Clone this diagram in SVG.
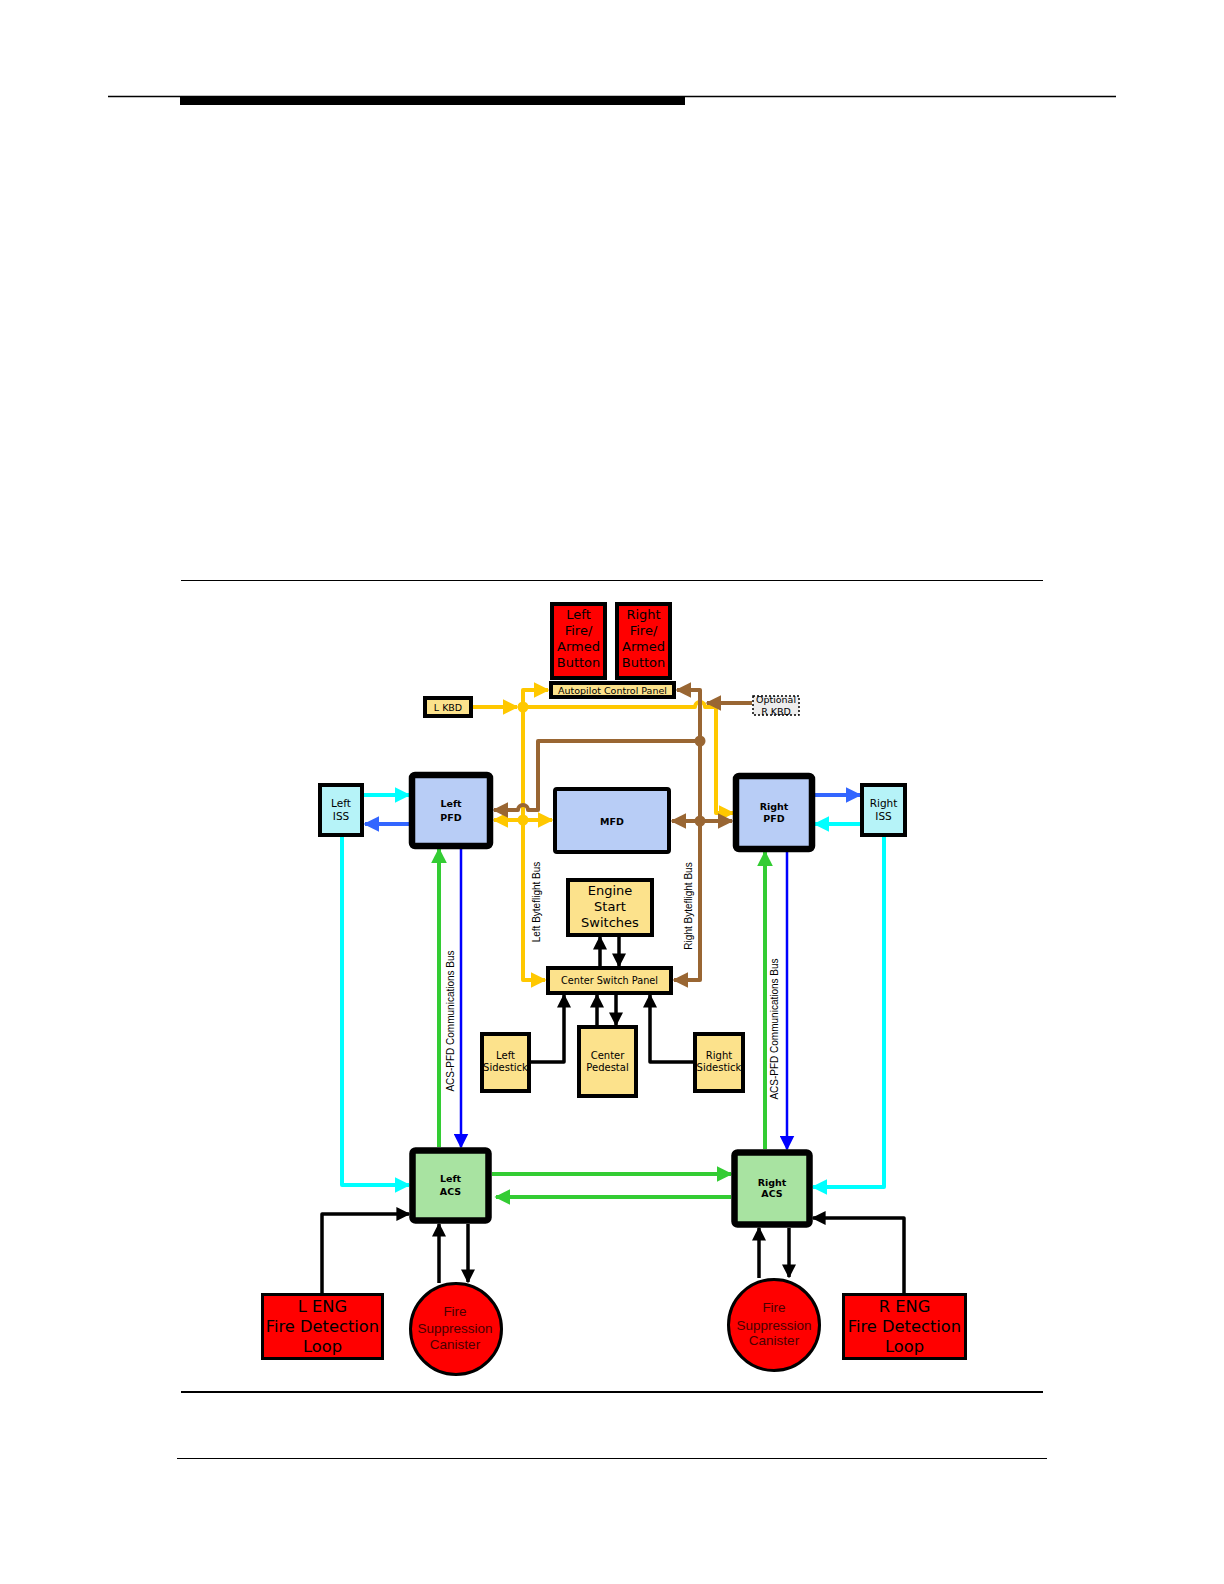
<svg xmlns="http://www.w3.org/2000/svg" width="1224" height="1584" viewBox="0 0 1224 1584">
<defs>
<style>
.ln{fill:none;stroke-linejoin:round}
.y{stroke:#FFC800;stroke-width:4}
.br{stroke:#996633;stroke-width:4}
.cy{stroke:#00FFFF;stroke-width:4}
.bl{stroke:#3366FF;stroke-width:4}
.bb{stroke:#0000FF;stroke-width:2.5}
.g{stroke:#33CC33;stroke-width:4}
.k{stroke:#000000;stroke-width:3.5}
.box{stroke:#000;stroke-width:4}
.thick{stroke:#000;stroke-width:6.5}
.red{fill:#FF0000}
.yel{fill:#FCE28C}
.pfd{fill:#B8CDF6}
.iss{fill:#B6F3F8}
.acs{fill:#A8E3A1}
.t{font-family:"Comic Sans MS","DejaVu Sans",sans-serif;text-anchor:middle;fill:#000}
.tb{font-family:"Comic Sans MS","DejaVu Sans",sans-serif;text-anchor:middle;fill:#000;font-weight:bold;font-size:9.5px}
.ta{font-family:"Liberation Sans",Arial,sans-serif;text-anchor:middle;fill:#000;font-size:10px}
.tc{font-family:"Liberation Sans",Arial,sans-serif;text-anchor:middle;fill:#4a0000;font-size:13.5px}
</style>
<marker id="aY" viewBox="0 0 10 10" refX="9" refY="5" markerWidth="16" markerHeight="16" markerUnits="userSpaceOnUse" orient="auto-start-reverse"><path d="M0,0 L10,5 L0,10 z" fill="#FFC800"/></marker>
<marker id="aBr" viewBox="0 0 10 10" refX="9" refY="5" markerWidth="16" markerHeight="16" markerUnits="userSpaceOnUse" orient="auto-start-reverse"><path d="M0,0 L10,5 L0,10 z" fill="#996633"/></marker>
<marker id="aC" viewBox="0 0 10 10" refX="9" refY="5" markerWidth="16" markerHeight="16" markerUnits="userSpaceOnUse" orient="auto-start-reverse"><path d="M0,0 L10,5 L0,10 z" fill="#00FFFF"/></marker>
<marker id="aBl" viewBox="0 0 10 10" refX="9" refY="5" markerWidth="16" markerHeight="16" markerUnits="userSpaceOnUse" orient="auto-start-reverse"><path d="M0,0 L10,5 L0,10 z" fill="#3366FF"/></marker>
<marker id="aBB" viewBox="0 0 10 10" refX="9" refY="5" markerWidth="15" markerHeight="15" markerUnits="userSpaceOnUse" orient="auto-start-reverse"><path d="M0,0 L10,5 L0,10 z" fill="#0000FF"/></marker>
<marker id="aG" viewBox="0 0 10 10" refX="9" refY="5" markerWidth="16" markerHeight="16" markerUnits="userSpaceOnUse" orient="auto-start-reverse"><path d="M0,0 L10,5 L0,10 z" fill="#33CC33"/></marker>
<marker id="aK" viewBox="0 0 10 10" refX="9" refY="5" markerWidth="14" markerHeight="14" markerUnits="userSpaceOnUse" orient="auto-start-reverse"><path d="M0,0 L10,5 L0,10 z" fill="#000"/></marker>
</defs>
<rect width="1224" height="1584" fill="#fff"/>
<g id="page">
<line x1="108" y1="96.5" x2="1116" y2="96.5" stroke="#000" stroke-width="1.5"/>
<rect x="180" y="96" width="505" height="9" fill="#000"/>
<line x1="181" y1="580.5" x2="1043" y2="580.5" stroke="#000" stroke-width="1.2"/>
<line x1="181" y1="1392" x2="1043" y2="1392" stroke="#000" stroke-width="2"/>
<line x1="177" y1="1458.5" x2="1047" y2="1458.5" stroke="#000" stroke-width="1.2"/>
</g>
<g id="connectors">
<path class="ln y" d="M473,707 L517,707" marker-end="url(#aY)"/>
<path class="ln y" d="M523,820 L523,690 L548,690" marker-end="url(#aY)"/>
<path class="ln y" d="M523,820 L523,980 L545,980" marker-end="url(#aY)"/>
<path class="ln y" d="M523,707 L695,707 A5,5 0 0 1 705,707 L716,707 L716,813 L733,813" marker-end="url(#aY)"/>
<path class="ln y" d="M494,820 L552,820" marker-start="url(#aY)" marker-end="url(#aY)"/>
<circle cx="523" cy="707" r="5.5" fill="#FFC800"/>
<circle cx="523" cy="820" r="5.5" fill="#FFC800"/>
<path class="ln br" d="M700,741 L700,690 L677,690" marker-end="url(#aBr)"/>
<path class="ln br" d="M700,700 L700,980 L674,980" marker-end="url(#aBr)"/>
<path class="ln br" d="M752,703 L707,703" marker-end="url(#aBr)"/>
<path class="ln br" d="M700,741 L538,741 L538,810 L528,810 A5,5 0 0 0 518,810 L494,810" marker-end="url(#aBr)"/>
<path class="ln br" d="M672,821 L732,821" marker-start="url(#aBr)" marker-end="url(#aBr)"/>
<circle cx="700" cy="741" r="5.5" fill="#996633"/>
<circle cx="700" cy="821" r="5.5" fill="#996633"/>
<path class="ln cy" d="M364,795 L409,795" marker-end="url(#aC)"/>
<path class="ln bl" d="M409,824 L365,824" marker-end="url(#aBl)"/>
<path class="ln bl" d="M815,795 L860,795" marker-end="url(#aBl)"/>
<path class="ln cy" d="M860,824 L815,824" marker-end="url(#aC)"/>
<path class="ln cy" d="M342,837 L342,1185 L409,1185" marker-end="url(#aC)"/>
<path class="ln cy" d="M884,837 L884,1187 L813,1187" marker-end="url(#aC)"/>
<path class="ln g" d="M439,1147 L439,849" marker-end="url(#aG)"/>
<path class="ln bb" d="M461,849 L461,1147" marker-end="url(#aBB)"/>
<path class="ln g" d="M765,1149 L765,852" marker-end="url(#aG)"/>
<path class="ln bb" d="M787,852 L787,1149" marker-end="url(#aBB)"/>
<path class="ln g" d="M492,1174 L731,1174" marker-end="url(#aG)"/>
<path class="ln g" d="M731,1197 L496,1197" marker-end="url(#aG)"/>
<path class="ln k" d="M600,966 L600,937" marker-end="url(#aK)"/>
<path class="ln k" d="M619,937 L619,966" marker-end="url(#aK)"/>
<path class="ln k" d="M531,1062 L564,1062 L564,995" marker-end="url(#aK)"/>
<path class="ln k" d="M597,1025 L597,995" marker-end="url(#aK)"/>
<path class="ln k" d="M616,995 L616,1025" marker-end="url(#aK)"/>
<path class="ln k" d="M693,1062 L650,1062 L650,995" marker-end="url(#aK)"/>
<path class="ln k" d="M322,1293 L322,1214 L409,1214" marker-end="url(#aK)"/>
<path class="ln k" d="M439,1283 L439,1224" marker-end="url(#aK)"/>
<path class="ln k" d="M468,1224 L468,1282" marker-end="url(#aK)"/>
<path class="ln k" d="M759,1278 L759,1228" marker-end="url(#aK)"/>
<path class="ln k" d="M789,1228 L789,1277" marker-end="url(#aK)"/>
<path class="ln k" d="M904,1293 L904,1218 L813,1218" marker-end="url(#aK)"/>
<text class="ta" transform="translate(454,1021) rotate(-90)">ACS-PFD Communications Bus</text>
<text class="ta" transform="translate(778,1029) rotate(-90)">ACS-PFD Communications Bus</text>
<text class="ta" transform="translate(540,902) rotate(-90)">Left Byteflight Bus</text>
<text class="ta" transform="translate(692,906) rotate(-90)">Right Byteflight Bus</text>
</g>
<g id="left-fire-button">
<rect x="552" y="604" width="53" height="74" class="red box"/>
<text class="t" font-size="13" fill="#220000"><tspan x="578.5" y="619">Left</tspan><tspan x="578.5" y="635">Fire/</tspan><tspan x="578.5" y="651">Armed</tspan><tspan x="578.5" y="667">Button</tspan></text>
</g>
<g id="right-fire-button">
<rect x="617" y="604" width="53" height="74" class="red box"/>
<text class="t" font-size="13" fill="#220000"><tspan x="643.5" y="619">Right</tspan><tspan x="643.5" y="635">Fire/</tspan><tspan x="643.5" y="651">Armed</tspan><tspan x="643.5" y="667">Button</tspan></text>
</g>
<g id="autopilot-control-panel">
<rect x="551" y="683" width="123" height="14" class="yel box"/>
<text class="t" x="612.5" y="694" font-size="9.5">Autopilot Control Panel</text>
</g>
<g id="l-kbd">
<rect x="425" y="698" width="46" height="18" class="yel box"/>
<text class="t" x="448" y="711" font-size="9.5">L KBD</text>
</g>
<g id="optional-r-kbd">
<rect x="753" y="696" width="46" height="19" fill="#EDEDED" stroke="#000" stroke-width="1.5" stroke-dasharray="2,2"/>
<text class="t" font-size="9.5" fill="#333"><tspan x="776" y="703">Optional</tspan><tspan x="776" y="715">R KBD</tspan></text>
</g>
<g id="left-iss">
<rect x="320" y="785" width="42" height="50" class="iss box"/>
<text class="t" font-size="10.5"><tspan x="341" y="807">Left</tspan><tspan x="341" y="820">ISS</tspan></text>
</g>
<g id="left-pfd">
<rect x="412" y="775" width="78" height="71" rx="3" class="pfd thick"/>
<text class="tb"><tspan x="451" y="807">Left</tspan><tspan x="451" y="821">PFD</tspan></text>
</g>
<g id="mfd">
<rect x="555" y="789" width="114" height="63" rx="2" class="pfd box"/>
<text class="tb" x="612" y="825">MFD</text>
</g>
<g id="right-pfd">
<rect x="736" y="776" width="76" height="73" rx="3" class="pfd thick"/>
<text class="tb"><tspan x="774" y="810">Right</tspan><tspan x="774" y="822">PFD</tspan></text>
</g>
<g id="right-iss">
<rect x="862" y="785" width="43" height="50" class="iss box"/>
<text class="t" font-size="10.5"><tspan x="883.5" y="807">Right</tspan><tspan x="883.5" y="820">ISS</tspan></text>
</g>
<g id="engine-start-switches">
<rect x="568" y="880" width="84" height="55" class="yel box"/>
<text class="t" font-size="13"><tspan x="610" y="895">Engine</tspan><tspan x="610" y="911">Start</tspan><tspan x="610" y="927">Switches</tspan></text>
</g>
<g id="center-switch-panel">
<rect x="548" y="968" width="123" height="25" class="yel box"/>
<text class="t" x="609.5" y="984" font-size="9.7">Center Switch Panel</text>
</g>
<g id="left-sidestick">
<rect x="482" y="1034" width="47" height="57" class="yel box"/>
<text class="t" font-size="10"><tspan x="505.5" y="1059">Left</tspan><tspan x="505.5" y="1071">Sidestick</tspan></text>
</g>
<g id="center-pedestal">
<rect x="579" y="1027" width="57" height="69" class="yel box"/>
<text class="t" font-size="10"><tspan x="607.5" y="1059">Center</tspan><tspan x="607.5" y="1071">Pedestal</tspan></text>
</g>
<g id="right-sidestick">
<rect x="695" y="1034" width="48" height="57" class="yel box"/>
<text class="t" font-size="10"><tspan x="719" y="1059">Right</tspan><tspan x="719" y="1071">Sidestick</tspan></text>
</g>
<g id="left-acs">
<rect x="412.5" y="1150.5" width="76" height="70" rx="3" class="acs thick"/>
<text class="tb"><tspan x="450.5" y="1182">Left</tspan><tspan x="450.5" y="1195">ACS</tspan></text>
</g>
<g id="right-acs">
<rect x="734.5" y="1152.5" width="75" height="72" rx="3" class="acs thick"/>
<text class="tb"><tspan x="772" y="1186">Right</tspan><tspan x="772" y="1197">ACS</tspan></text>
</g>
<g id="l-eng-fire-detection-loop">
<rect x="262.5" y="1294.5" width="120" height="64" class="red" stroke="#000" stroke-width="3"/>
<text class="t" font-size="16.3" fill="#220000"><tspan x="322.5" y="1312">L ENG</tspan><tspan x="322.5" y="1332">Fire Detection</tspan><tspan x="322.5" y="1352">Loop</tspan></text>
</g>
<g id="left-fire-suppression-canister">
<circle cx="456" cy="1329" r="45.5" class="red" stroke="#000" stroke-width="3"/>
<text class="tc"><tspan x="455" y="1316">Fire</tspan><tspan x="455" y="1333">Suppression</tspan><tspan x="455" y="1349">Canister</tspan></text>
</g>
<g id="right-fire-suppression-canister">
<circle cx="774" cy="1325" r="45.5" class="red" stroke="#000" stroke-width="3"/>
<text class="tc"><tspan x="774" y="1312">Fire</tspan><tspan x="774" y="1330">Suppression</tspan><tspan x="774" y="1345">Canister</tspan></text>
</g>
<g id="r-eng-fire-detection-loop">
<rect x="843.5" y="1294.5" width="122" height="64" class="red" stroke="#000" stroke-width="3"/>
<text class="t" font-size="16.3" fill="#220000"><tspan x="904.5" y="1312">R ENG</tspan><tspan x="904.5" y="1332">Fire Detection</tspan><tspan x="904.5" y="1352">Loop</tspan></text>
</g>
</svg>
